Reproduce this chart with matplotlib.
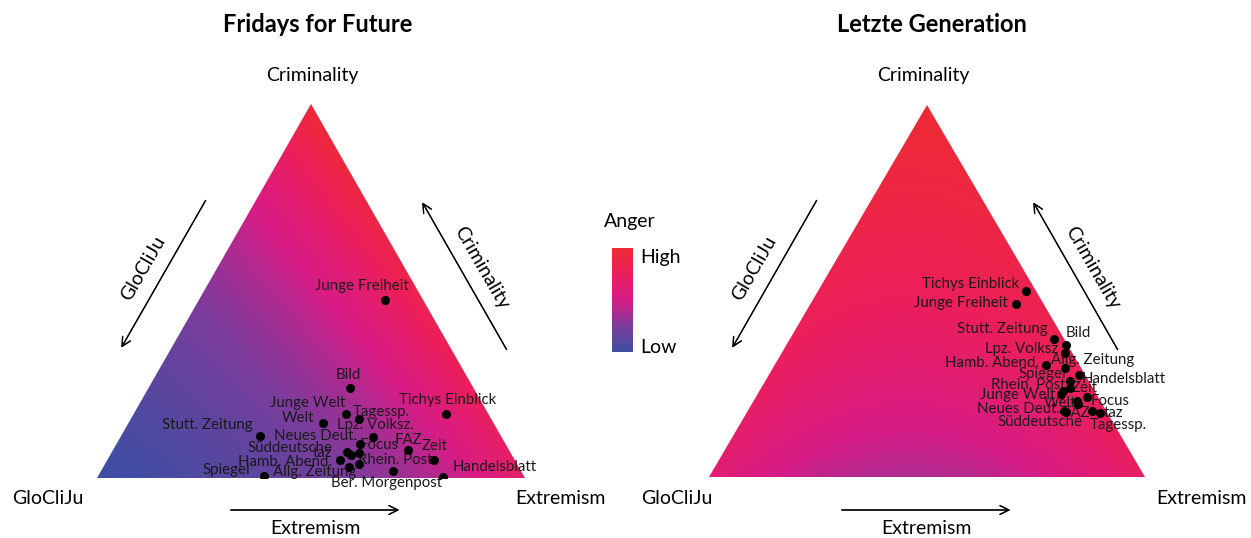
import numpy as np
import matplotlib.pyplot as plt
from matplotlib.colors import LinearSegmentedColormap
from matplotlib.patches import Polygon
from matplotlib.cm import ScalarMappable

plt.rcParams['font.family'] = ['Lato', 'DejaVu Sans']

W, H = 1251, 538

# Fridays for Future: share of the criminality / extremism frame per outlet
# (the rest is the GloCliJu frame)
fff_outlets = ['Junge Freiheit', 'Bild', 'Junge Welt', 'Tagessp.', 'Tichys Einblick',
               'Welt', 'Stutt. Zeitung', 'Lpz. Volksz.', 'Neues Deut.', 'FAZ', 'Zeit',
               'Focus', 'Süddeutsche', 'taz', 'Hamb. Abend.', 'Rhein. Post',
               'Allg. Zeitung', 'Spiegel', 'Ber. Morgenpost', 'Handelsblatt']
fff_criminality = [0.476, 0.241, 0.171, 0.157, 0.170, 0.147, 0.112, 0.109, 0.092, 0.075,
                   0.047, 0.066, 0.070, 0.062, 0.049, 0.037, 0.030, 0.006, 0.019, 0.003]
fff_extremism = [0.436, 0.470, 0.496, 0.534, 0.730, 0.454, 0.325, 0.591, 0.568, 0.690,
                 0.764, 0.578, 0.550, 0.563, 0.544, 0.594, 0.574, 0.388, 0.681, 0.808]

# Letzte Generation
lg_outlets = ['Tichys Einblick', 'Junge Freiheit', 'Stutt. Zeitung', 'Bild', 'Lpz. Volksz',
              'Hamb. Abend.', 'Allg. Zeitung', 'Handelsblatt', 'Spiegel', 'Zeit',
              'Rhein. Post', 'Junge Welt', 'Focus', 'Welt', 'FAZ', 'Neues Deut.',
              'Tagessp.', 'taz', 'Süddeutsche']
lg_criminality = [0.501, 0.466, 0.370, 0.355, 0.333, 0.302, 0.292, 0.274, 0.259, 0.238,
                  0.232, 0.223, 0.214, 0.205, 0.196, 0.178, 0.178, 0.173, 0.175]
lg_extremism = [0.477, 0.472, 0.607, 0.642, 0.649, 0.622, 0.671, 0.711, 0.699, 0.709,
                0.695, 0.696, 0.761, 0.741, 0.749, 0.726, 0.789, 0.811, 0.732]

# anger at the corners (criminality, extremism, GloCliJu), weight of the
# GloCliJu corner, dip along the base
fff_anger = (1.0, 0.68, 0.0, 2.6, 0.0)
lg_anger = (1.0, 0.72, 0.62, 1.0, 0.28)

# label offsets in pixels (right, down) - layout only
fff_offsets = [(-24, -14), (-1, -13), (-38, -11), (22, -7), (2, -14), (-25, -5), (-53, -11),
               (2, -12), (-44, -8), (0, -10), (1, -14), (21, -8), (-57, -4), (-29, -2),
               (-55, 2), (36, -4), (-34, 5), (-38, -6), (-6, 12), (51, -10)]
lg_offsets = [(-56, -7), (-56, -1), (-52, -10), (12, -12), (-43, -4), (-54, -2), (27, -8),
              (45, 4), (-28, -7), (15, 0), (-34, -6), (-43, 1), (23, 4), (-17, 2), (-2, 9),
              (-46, -2), (27, 14), (13, 0), (-26, 10)]

cmap = LinearSegmentedColormap.from_list(
    'anger', ['#3c4fa3', '#7d3c9c', '#d81c86', '#ec1f5c', '#ee2a35'])


def fig_text(x, y, s, **kw):
    fig.text(x / W, 1 - y / H, s, ha='center', va='center', **kw)


def arrow(x0, y0, x1, y1):
    fig.add_artist(plt.annotate('', xy=(x1, H - y1), xytext=(x0, H - y0),
                                xycoords='figure pixels', textcoords='figure pixels',
                                arrowprops=dict(arrowstyle='->', lw=0.9, color='black',
                                                mutation_scale=16)))


def draw_panel(rect, outlets, crim, extr, anger, offsets):
    ax = fig.add_axes(rect)
    ax.set_xlim(0, 1)
    ax.set_ylim(0, 1)
    ax.axis('off')

    n = 500
    X, Y = np.meshgrid(np.linspace(0, 1, n), np.linspace(0, 1, n))
    c = Y
    e = X - 0.5 * Y
    g = 1 - c - e
    a_c, a_e, a_g, k_g, dip = anger
    A = (a_c * c + a_e * e + a_g * k_g * g) / (c + e + k_g * g) - 4 * dip * g * e
    im = ax.imshow(A, cmap=cmap, vmin=0, vmax=1, extent=(0, 1, 0, 1), origin='lower',
                   aspect='auto', interpolation='bilinear')
    tri = Polygon([(0, 0), (1, 0), (0.5, 1)], closed=True, fc='none', ec='none',
                  transform=ax.transData)
    ax.add_patch(tri)
    im.set_clip_path(tri)

    crim = np.array(crim)
    extr = np.array(extr)
    xs = extr + 0.5 * crim
    ys = crim
    ax.scatter(xs, ys, s=30, color='black', zorder=4)
    for name, x, y, (dx, dy) in zip(outlets, xs, ys, offsets):
        ax.annotate(name, (x, y), xytext=(dx, -dy), textcoords='offset pixels',
                    ha='center', va='center', fontsize=10.8, color='#1a1a1a', zorder=3)
    return ax


fig = plt.figure(figsize=(W / 100, H / 100), dpi=100)

draw_panel([97 / W, 60 / H, 428 / W, 374 / H], fff_outlets, fff_criminality,
           fff_extremism, fff_anger, fff_offsets)
draw_panel([709 / W, 61 / H, 436 / W, 372 / H], lg_outlets, lg_criminality,
           lg_extremism, lg_anger, lg_offsets)

# titles and axis texts
for cx, title in [(318, 'Fridays for Future'), (932, 'Letzte Generation')]:
    fig_text(cx, 24, title, fontsize=17, fontweight='bold')

for dx in [0, 611]:
    fig_text(312 + dx, 76, 'Criminality', fontsize=14)
    fig_text(143 + dx, 268, 'GloCliJu', fontsize=14, rotation=60)
    fig_text(482 + dx, 268, 'Criminality', fontsize=14, rotation=-60)
    fig_text(315 + dx, 528, 'Extremism', fontsize=14)
    arrow(207 + dx, 198, 120 + dx, 350)
    arrow(508 + dx, 352, 421 + dx, 200)
    arrow(228 + dx, 510, 402 + dx, 510)

fig_text(48, 499, 'GloCliJu', fontsize=14)
fig_text(560, 499, 'Extremism', fontsize=14)
fig_text(677, 499, 'GloCliJu', fontsize=14)
fig_text(1201, 499, 'Extremism', fontsize=14)

# anger colour scale
cax = fig.add_axes([612 / W, (H - 352) / H, 21 / W, 104 / H])
cb = fig.colorbar(ScalarMappable(cmap=cmap), cax=cax, ticks=[0.06, 0.92])
cb.ax.set_yticklabels(['Low', 'High'], fontsize=14)
cb.ax.tick_params(length=0, pad=5)
cb.outline.set_visible(False)
fig_text(630, 222, 'Anger', fontsize=14)

fig.savefig('out.png', dpi=100)
